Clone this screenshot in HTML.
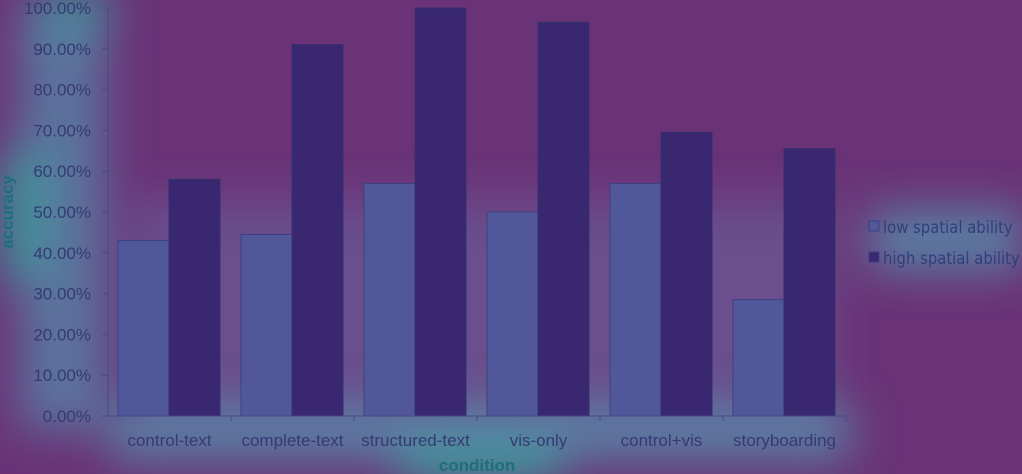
<!DOCTYPE html>
<html><head><meta charset="utf-8"><style>
html,body{margin:0;padding:0;background:#6a3378;}
svg{display:block;font-family:"Liberation Sans",Arial,sans-serif;}
</style></head><body>
<svg id="chart" width="1022" height="474" viewBox="0 0 1022 474">
<defs>
<filter id="blur" x="-50%" y="-50%" width="200%" height="200%"><feGaussianBlur stdDeviation="22"/></filter>
</defs>
<rect width="1022" height="474" fill="#6a3378"/>
<g filter="url(#blur)">
<rect x="20" y="0" width="85" height="430" fill="#5a7aa2" opacity="0.9"/>
<rect x="0" y="150" width="45" height="130" fill="#3a9a9a" opacity="0.9"/>
<rect x="40" y="-10" width="70" height="40" fill="#3a9a9a" opacity="0.8"/>
<rect x="110" y="405" width="740" height="55" fill="#5a84a6" opacity="0.95"/>
<rect x="400" y="445" width="160" height="40" fill="#3a9c9a" opacity="0.9"/>
<rect x="870" y="210" width="152" height="60" fill="#5a84a6" opacity="0.95"/>
<rect x="130" y="200" width="700" height="210" fill="#6a6aa2" opacity="0.5"/>
</g>
<g id="plot"></g>
</svg>
<script>
const categories=["control-text","complete-text","structured-text","vis-only","control+vis","storyboarding"];
const lowValues=[43,44.5,57,50,57,28.5];
const highValues=[58,91,100,96.5,69.5,65.5];
const yTicks=[0,10,20,30,40,50,60,70,80,90,100];
const x0=108,groupW=123,yBase=416,yTop=8;
const y=v=>yBase-(yBase-yTop)*v/100;
const gx=i=>x0+i*groupW;
const g=document.getElementById('plot');
const NS="http://www.w3.org/2000/svg";
function mk(tag,attrs,txt){const e=document.createElementNS(NS,tag);for(const k in attrs)e.setAttribute(k,attrs[k]);if(txt!==undefined)e.textContent=txt;g.appendChild(e);return e;}
categories.forEach((c,i)=>{
 const b1=mk('rect',{x:gx(i)+10,y:y(lowValues[i]),width:51,height:yBase-y(lowValues[i]),fill:'#50589a',stroke:'#3e3f80','stroke-width':1});
 
 
 const b2=mk('rect',{x:gx(i)+61,y:y(highValues[i]),width:51,height:yBase-y(highValues[i]),fill:'#392770',stroke:'#33306e','stroke-width':1});
 
 
 const t=mk('text',{x:gx(i)+groupW/2,y:446,'text-anchor':'middle','font-size':17,fill:'#363a74'},c);
 
 
 const tk=mk('line',{x1:gx(i+1),x2:gx(i+1),y1:yBase,y2:yBase+5,stroke:'#444a85'});
 
 
});
yTicks.forEach(v=>{
 const t=mk('text',{x:91,y:y(v)+6,'text-anchor':'end','font-size':17,fill:'#363a74'},v.toFixed(2)+'%');
 
 
 const l=mk('line',{x1:102,x2:108,y1:y(v),y2:y(v),stroke:'#444a85'});
 
 
});
const ya=mk('line',{x1:x0,x2:x0,y1:yTop,y2:yBase,stroke:'#444a85'});


const xa=mk('line',{x1:x0,x2:gx(categories.length),y1:yBase,y2:yBase,stroke:'#444a85'});


const yt=mk('text',{x:13,y:212,'text-anchor':'middle','font-size':17,'font-weight':'bold',fill:'#1e6f7a',transform:'rotate(-90 13 212)'},'accuracy');


const xt=mk('text',{x:477,y:471,'text-anchor':'middle','font-size':17,'font-weight':'bold',fill:'#1e6f7a'},'condition');


const legendLabels=["low spatial ability","high spatial ability"];
const legendColors=['#50589a','#392770'];
legendLabels.forEach((s,i)=>{
 const r=mk('rect',{x:869,y:221+i*31,width:10,height:10,fill:legendColors[i],stroke:'#3e3f80'});
 
 
 const t=mk('text',{x:883,y:233+i*31,'font-size':16.5,fill:'#30407a','font-family':'"DejaVu Sans Condensed","DejaVu Sans",sans-serif'},s);
 
 
});
</script>
</body></html>
